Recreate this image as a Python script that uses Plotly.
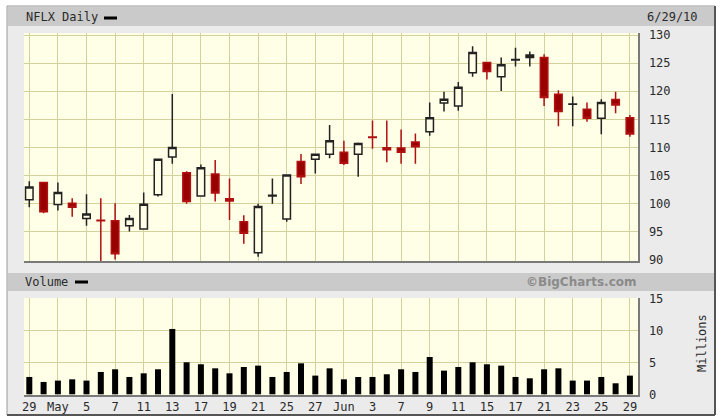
import plotly.graph_objects as go

# ---- data ----
day_index = list(range(43))
tick_pos = list(range(0, 43, 2))
tick_labels = ["29", "May", "5", "7", "11", "13", "17", "19", "21", "25", "27",
               "Jun", "3", "7", "9", "11", "15", "17", "21", "23", "25", "29"]

open_ = [100.7, 103.8, 99.85, 100.1, 97.4, 97.05, 97.0, 96.1, 95.5, 101.6,
         108.3, 105.5, 101.4, 105.3, 100.9, 96.8, 91.3, 101.4, 97.3, 107.5,
         107.9, 108.8, 109.15, 108.8, 111.85, 109.95, 109.9, 111.0, 112.8, 117.9,
         117.4, 123.3, 125.1, 122.6, 125.55, 126.0, 126.0, 119.45, 117.7, 116.8,
         115.2, 118.55, 115.3]
high = [104.0, 103.9, 103.8, 101.0, 101.7, 101.0, 100.1, 98.0, 102.0, 108.0,
        119.5, 105.8, 107.0, 107.8, 104.5, 97.95, 100.0, 104.5, 105.2, 108.85,
        108.9, 114.0, 111.2, 110.9, 114.8, 114.8, 113.2, 112.5, 118.0, 119.9,
        121.65, 128.0, 125.15, 126.0, 127.75, 127.05, 126.6, 120.2, 119.05, 118.0,
        118.6, 119.9, 115.8]
low = [99.4, 98.3, 98.8, 97.7, 96.1, 88.0, 90.1, 95.05, 95.4, 101.3,
       107.1, 100.0, 101.3, 100.4, 97.1, 92.9, 90.6, 100.0, 96.8, 103.5,
       105.4, 108.1, 106.9, 104.8, 109.8, 107.4, 107.1, 107.1, 112.1, 116.4,
       116.55, 122.6, 122.1, 120.05, 124.4, 124.4, 117.4, 113.8, 113.8, 114.6,
       112.35, 116.1, 111.9]
close = [103.0, 98.6, 102.0, 99.4, 98.2, 97.0, 91.1, 97.4, 99.9, 107.9,
         110.0, 100.4, 106.4, 101.9, 100.5, 94.75, 99.5, 101.5, 105.1, 104.8,
         108.8, 111.2, 107.2, 110.7, 111.8, 109.6, 109.15, 110.15, 115.3, 118.6,
         120.7, 126.9, 123.5, 124.7, 125.65, 126.45, 118.9, 116.4, 117.75, 115.2,
         118.0, 117.55, 112.4]
volume_m = [2.71, 1.93, 2.14, 2.34, 2.14, 3.49, 3.91, 2.71, 3.28, 3.91,
            10.21, 5.0, 4.69, 4.06, 3.28, 4.27, 4.48, 2.71, 3.49, 4.84,
            2.92, 4.06, 2.34, 2.7, 2.71, 3.13, 3.91, 3.49, 5.83, 3.70,
            4.27, 5.0, 4.69, 4.48, 2.71, 2.5, 3.91, 4.06, 2.14, 2.14,
            2.71, 1.72, 2.92]
price_ticks = [90, 95, 100, 105, 110, 115, 120, 125, 130]
volume_ticks = [0, 5, 10, 15]

# ---- layout geometry (pixels) ----
W, H = 722, 419
ML, MR, MT, MB = 24, 84, 33, 24
PW, PH = W - ML - MR, H - MT - MB


def px(x):
    return (x - ML) / PW


def py(y):
    return (H - MB - y) / PH


BG = "#fffee6"
GRID = "#d3d29c"
MONO = "DejaVu Sans Mono"
TXT = "#2a2a2a"

fig = go.Figure()
fig.add_trace(go.Candlestick(
    x=day_index, open=open_, high=high, low=low, close=close,
    xaxis="x", yaxis="y",
    increasing=dict(line=dict(color="#222222", width=1.5), fillcolor=BG),
    decreasing=dict(line=dict(color="#b01010", width=1.5), fillcolor="#990000"),
    whiskerwidth=0, hoverinfo="skip",
))
fig.add_trace(go.Bar(
    x=day_index, y=volume_m, xaxis="x2", yaxis="y2",
    marker=dict(color="#000000", line=dict(width=0)), width=0.42,
    hoverinfo="skip",
))

shapes = []
# outer frame
shapes.append(dict(type="rect", xref="paper", yref="paper", layer="below",
                   x0=px(7), x1=px(715), y0=py(6), y1=py(415),
                   fillcolor="#ebebeb", line=dict(color="#9a9a9a", width=1)))
# title bars
for y0, y1 in [(7, 26), (273, 291)]:
    shapes.append(dict(type="rect", xref="paper", yref="paper", layer="below",
                       x0=px(8), x1=px(714), y0=py(y0), y1=py(y1),
                       fillcolor="#cacaca", line=dict(width=0)))
# plot backgrounds
for y0, y1 in [(33, 261), (298, 395)]:
    shapes.append(dict(type="rect", xref="paper", yref="paper", layer="below",
                       x0=px(ML), x1=px(638), y0=py(y0), y1=py(y1),
                       fillcolor=BG, line=dict(width=0)))
# frame shadow right & bottom
shapes.append(dict(type="line", xref="paper", yref="paper", x0=px(715), x1=px(715),
                   y0=py(6), y1=py(415), line=dict(color="#555555", width=2)))
shapes.append(dict(type="line", xref="paper", yref="paper", x0=px(7), x1=px(715),
                   y0=py(415), y1=py(415), line=dict(color="#555555", width=2)))
# legend dashes
shapes.append(dict(type="line", xref="paper", yref="paper", x0=px(104), x1=px(117),
                   y0=py(18), y1=py(18), line=dict(color="#000000", width=3)))
shapes.append(dict(type="line", xref="paper", yref="paper", x0=px(75), x1=px(88),
                   y0=py(282), y1=py(282), line=dict(color="#000000", width=3)))

annotations = [
    dict(text="NFLX Daily", x=px(24), y=py(17), xref="paper", yref="paper",
         xanchor="left", yanchor="middle", showarrow=False,
         font=dict(family=MONO, size=12, color=TXT)),
    dict(text="6/29/10", x=px(700), y=py(17), xref="paper", yref="paper",
         xanchor="right", yanchor="middle", showarrow=False,
         font=dict(family=MONO, size=12, color=TXT)),
    dict(text="Volume", x=px(23), y=py(282), xref="paper", yref="paper",
         xanchor="left", yanchor="middle", showarrow=False,
         font=dict(family=MONO, size=12, color=TXT)),
    dict(text="<b>©BigCharts.com</b>", x=px(639), y=py(282), xref="paper", yref="paper",
         xanchor="right", yanchor="middle", showarrow=False,
         font=dict(family="DejaVu Sans", size=12, color="#8a8a8a")),
    dict(text="Millions", x=px(702), y=py(343), xref="paper", yref="paper",
         xanchor="center", yanchor="middle", showarrow=False, textangle=-90,
         font=dict(family=MONO, size=12, color=TXT)),
]

xr = [(ML - 29.3) / 14.3, (638 - 29.3) / 14.3]
common_x = dict(range=xr, tickmode="array", tickvals=tick_pos, showgrid=True,
                gridcolor=GRID, gridwidth=1, zeroline=False, ticks="",
                showline=True, linecolor="#7a7a7a", linewidth=1.5, mirror=False,
                fixedrange=True, automargin=False)

fig.update_layout(
    width=W, height=H, autosize=False,
    margin=dict(l=ML, r=MR, t=MT, b=MB, pad=0, autoexpand=False),
    paper_bgcolor="#ffffff", plot_bgcolor=BG,
    showlegend=False, hovermode=False, dragmode=False,
    boxgap=0.25,
    xaxis=dict(**common_x, domain=[0, 1], anchor="y", showticklabels=False,
               rangeslider=dict(visible=False)),
    xaxis2=dict(**common_x, domain=[0, 1], anchor="y2", ticktext=tick_labels,
                showticklabels=True, ticklabelstandoff=0,
                tickfont=dict(family=MONO, size=12, color=TXT)),
    yaxis=dict(domain=[py(261), py(33)],
               range=[90 - 1 / 5.625, 130 + 2 / 5.625],
               side="right", tickmode="array", tickvals=price_ticks,
               showgrid=True, gridcolor=GRID, gridwidth=1, zeroline=False,
               ticks="", showline=True, linecolor="#7a7a7a", linewidth=1.5,
               ticklabelstandoff=7, anchor="x", automargin=False,
               tickfont=dict(family=MONO, size=12, color=TXT), fixedrange=True),
    yaxis2=dict(domain=[py(395), py(298)],
                range=[-0.7 / 6.4, 15 + 0.3 / 6.4],
                side="right", tickmode="array", tickvals=volume_ticks,
                showgrid=True, gridcolor=GRID, gridwidth=1, zeroline=False,
                ticks="", showline=True, linecolor="#7a7a7a", linewidth=1.5,
                ticklabelstandoff=7, anchor="x2", automargin=False,
                tickfont=dict(family=MONO, size=12, color=TXT), fixedrange=True),
    shapes=shapes,
    annotations=annotations,
)

fig.write_html("out.html", config={"displayModeBar": False, "staticPlot": True},
               post_script="document.body.style.margin='0';document.body.style.padding='0';")
